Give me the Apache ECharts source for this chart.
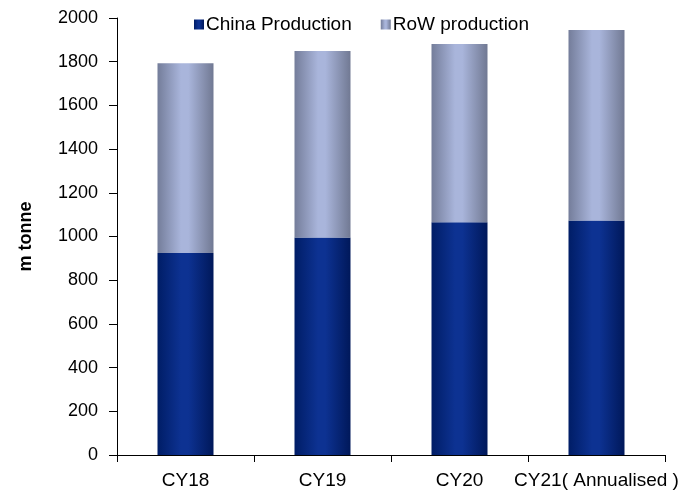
<!DOCTYPE html>
<html>
<head>
<meta charset="utf-8">
<script src="https://cdn.jsdelivr.net/npm/echarts@6/dist/echarts.min.js"></script>
<style>
  html, body { margin: 0; padding: 0; background: #ffffff; }
  #chart { width: 700px; height: 491px; }
</style>
</head>
<body>
<div id="chart"></div>
<script>
// Annual production, million tonnes
const categories = ['CY18', 'CY19', 'CY20', 'CY21( Annualised )'];
const chinaProduction = [925, 995, 1065, 1073];
const rowProduction = [868, 854, 816, 872];
const yTicks = [0, 200, 400, 600, 800, 1000, 1200, 1400, 1600, 1800, 2000];

// Horizontal "cylinder" shading for the bars
function cylinder(edgeL, mid, edgeR) {
  return new echarts.graphic.LinearGradient(0, 0, 1, 0, [
    { offset: 0, color: edgeL },
    { offset: 0.42, color: mid },
    { offset: 0.55, color: mid },
    { offset: 1, color: edgeR }
  ]);
}

const chart = echarts.init(document.getElementById('chart'), null, { renderer: 'canvas' });
const font = 'Arial, "Liberation Sans", sans-serif';

chart.setOption({
  animation: false,
  backgroundColor: '#ffffff',
  textStyle: { fontFamily: font },
  grid: { left: 117, right: 35, top: 18, bottom: 36, containLabel: false },
  legend: {
    left: 189,
    top: 10,
    itemWidth: 10,
    itemHeight: 10,
    itemGap: 29,
    icon: 'rect',
    textStyle: { fontSize: 19, color: '#000', fontFamily: font, padding: [0, 0, 0, -3] },
    data: ['China Production', 'RoW production']
  },
  xAxis: {
    type: 'category',
    data: categories,
    axisLine: { lineStyle: { color: '#000', width: 1 } },
    axisTick: { show: true, length: 7, alignWithLabel: false, lineStyle: { color: '#000' } },
    axisLabel: { color: '#000', fontSize: 19, margin: 16, fontFamily: font, interval: 0 }
  },
  yAxis: {
    type: 'value',
    min: yTicks[0],
    max: yTicks[yTicks.length - 1],
    interval: 200,
    name: 'm tonne',
    nameLocation: 'middle',
    nameGap: 82,
    nameRotate: 90,
    nameTextStyle: { fontSize: 18, fontWeight: 'bold', color: '#000', fontFamily: font },
    axisLine: { show: true, lineStyle: { color: '#000', width: 1 } },
    axisTick: { show: true, length: 8, inside: false, lineStyle: { color: '#000' } },
    axisLabel: {
      color: '#000', fontSize: 18, margin: 19, fontFamily: font,
      formatter: (v) => String(v)
    },
    splitLine: { show: false }
  },
  series: [
    {
      name: 'China Production',
      type: 'bar',
      stack: 'total',
      barWidth: 56,
      data: chinaProduction,
      itemStyle: { color: cylinder('#001d66', '#0d3292', '#00185a') }
    },
    {
      name: 'RoW production',
      type: 'bar',
      stack: 'total',
      barWidth: 56,
      data: rowProduction,
      itemStyle: { color: cylinder('#747d9a', '#a9b5db', '#717993') }
    }
  ]
});
</script>
</body>
</html>
